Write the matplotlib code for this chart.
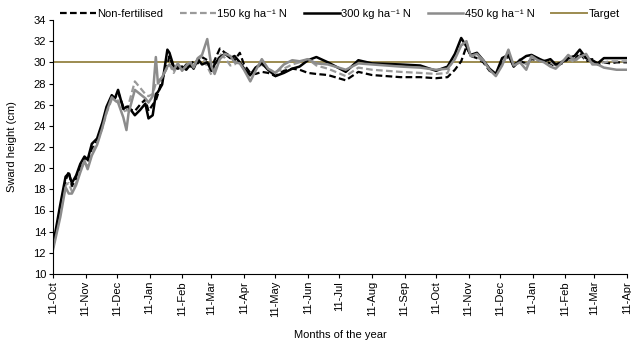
import matplotlib

matplotlib.use("Agg")

import matplotlib.dates as mdates
import matplotlib.pyplot as plt
import pandas as pd

plt.rcParams["font.family"] = ["Liberation Sans", "DejaVu Sans"]

START = "2012-10-11"
END = "2014-04-11"
TARGET = 30

# days since 11 Oct 2012
days = [
    0, 7, 12, 15, 18, 22, 26, 30, 33, 37, 42, 47, 51, 56, 59, 62, 67, 70, 72, 78,
    83, 88, 91, 95, 98, 100, 104, 109, 111, 115, 119, 123, 127, 131, 134, 138, 142, 147, 151, 154,
    159, 164, 169, 173, 178, 182, 188, 193, 199, 205, 212, 220, 228, 235, 243, 251, 262, 279, 291, 304,
    331, 350, 365, 376, 383, 389, 394, 398, 404, 410, 416, 422, 428, 434, 439, 445, 451, 456, 462, 468,
    474, 479, 485, 491, 497, 502, 508, 514, 519, 525, 531, 537, 547,
]

non_fert = [
    12.5, 16.0, 18.8, 19.7, 18.3, 19.0, 20.0, 21.0, 20.6, 21.8, 22.6, 24.0, 25.5, 26.8, 26.6, 27.2, 25.8, 25.6, 25.6, 25.4,
    26.0, 26.5, 25.4, 26.0, 26.4, 27.0, 28.4, 29.8, 30.6, 29.4, 29.6, 29.3, 29.8, 29.6, 30.2, 29.9, 30.5, 30.2, 29.5, 30.2,
    31.3, 30.9, 30.6, 30.2, 30.9, 29.8, 29.0, 28.9, 29.1, 29.0, 28.7, 29.2, 29.4, 29.3, 29.0, 28.9, 28.8, 28.3, 29.1, 28.8,
    28.6, 28.6, 28.5, 28.6, 29.3, 30.1, 31.5, 30.6, 30.4, 30.0, 29.2, 28.9, 29.9, 30.6, 29.8, 30.1, 29.9, 30.3, 30.2, 30.1,
    29.9, 29.6, 29.9, 30.3, 30.2, 30.9, 30.1, 30.3, 29.8, 30.0, 29.9, 30.0, 30.0,
]
n150 = [
    12.6, 15.7, 18.4, 18.6, 17.8, 18.6, 19.8, 20.6, 20.1, 21.4, 22.4, 23.8, 25.2, 26.5, 26.3, 26.4, 25.6, 25.2, 26.0, 28.2,
    27.6, 27.0, 26.8, 27.0, 28.0, 28.2, 28.6, 29.5, 29.8, 29.0, 29.8, 29.5, 29.4, 30.0, 29.6, 30.2, 30.6, 29.6, 28.8, 29.3,
    30.8, 30.4, 29.7, 29.8, 30.2, 29.4, 28.6, 29.4, 29.8, 29.3, 29.1, 29.4, 29.8, 30.0, 30.3, 29.7, 29.4, 28.7, 29.5, 29.3,
    29.1, 29.0, 28.9, 29.0, 30.7, 31.6, 31.9, 30.6, 30.5, 30.1, 29.4, 28.8, 29.8, 30.8, 29.6, 30.3, 29.8, 30.4, 30.3, 30.2,
    30.0, 29.7, 30.1, 30.4, 30.0, 30.6, 30.4, 30.0, 29.9, 30.0, 30.1, 30.1, 30.1,
]
n300 = [
    12.7, 16.6, 19.2, 19.5, 18.6, 19.3, 20.4, 21.1, 20.8, 22.3, 22.8, 24.3, 25.8, 26.9, 26.6, 27.4, 25.6, 25.8, 25.8, 25.0,
    25.5, 26.1, 24.7, 25.0, 27.0, 27.2, 27.9, 31.2, 30.9, 29.6, 29.4, 29.6, 29.3, 29.8, 29.4, 30.3, 29.8, 30.0, 29.2, 29.8,
    30.5, 30.8, 30.4, 30.6, 30.0, 29.4, 28.8, 29.5, 29.9, 29.3, 28.7, 29.0, 29.4, 29.6, 30.2, 30.5, 30.0, 29.1, 30.2, 29.9,
    29.8, 29.7, 29.2, 29.6, 30.8, 32.3, 31.5, 30.7, 30.9, 30.2, 29.4, 28.9, 30.4, 30.7, 29.6, 30.2, 30.6, 30.7, 30.4, 30.1,
    30.3, 29.8, 30.0, 30.4, 30.6, 31.2, 30.4, 30.2, 29.9, 30.4, 30.4, 30.4, 30.4,
]
n450 = [
    12.3, 15.4, 18.2, 17.6, 17.6, 18.4, 19.6, 20.7, 19.9, 21.2, 22.2, 23.8, 25.3, 26.7, 26.4, 26.2, 24.8, 23.6, 25.2, 27.4,
    27.0, 26.6, 26.2, 26.8, 30.5, 28.0, 28.6, 29.6, 29.8, 29.3, 29.9, 29.2, 29.7, 30.0, 29.5, 30.4, 30.7, 32.2, 29.6, 28.9,
    30.3, 30.8, 30.6, 30.0, 29.9, 29.3, 28.2, 29.2, 30.3, 29.4, 29.0, 29.8, 30.2, 30.1, 30.3, 29.9, 29.8, 29.3, 29.9, 29.8,
    29.6, 29.5, 29.3, 29.4, 30.3, 31.6, 32.0, 30.6, 30.8, 30.2, 29.3, 28.7, 29.7, 31.2, 29.7, 30.0, 29.3, 30.6, 30.2, 30.0,
    29.6, 29.4, 30.0, 30.7, 30.2, 30.5, 30.8, 29.8, 29.8, 29.5, 29.4, 29.3, 29.3,
]

labels = ["Non-fertilised", "150 kg ha\u207b\u00b9 N", "300 kg ha\u207b\u00b9 N", "450 kg ha\u207b\u00b9 N"]


def main():
    dates = pd.Timestamp(START) + pd.to_timedelta(days, unit="D")

    fig = plt.figure(figsize=(6.31, 3.43), dpi=100)
    ax = fig.add_axes([53 / 631, 1 - 274 / 343, 574 / 631, 254 / 343])

    ax.plot(dates, non_fert, color="black", linestyle=(0, (3, 1.5)), linewidth=1.6, label=labels[0])
    ax.plot(dates, n150, color="#9a9a9a", linestyle=(0, (3, 1.5)), linewidth=1.6, label=labels[1])
    ax.plot(dates, n300, color="black", linewidth=1.8, label=labels[2])
    ax.plot(dates, n450, color="#8c8c8c", linewidth=1.8, label=labels[3])
    ax.axhline(TARGET, color="#9c8b50", linewidth=1.4, label="Target", zorder=1)

    ax.set_xlim(pd.Timestamp(START), pd.Timestamp(END))
    ax.set_ylim(10, 34)
    ax.set_yticks(range(10, 35, 2))
    ax.xaxis.set_major_locator(mdates.MonthLocator(bymonthday=11))
    ax.xaxis.set_major_formatter(mdates.DateFormatter("%d-%b"))
    ax.tick_params(axis="x", labelrotation=90, labelsize=8, length=3, pad=2)
    ax.tick_params(axis="y", labelsize=8, length=3, pad=2)
    for side in ["top", "right"]:
        ax.spines[side].set_visible(False)

    ax.set_xlabel("Months of the year", fontsize=8, labelpad=9)
    ax.set_ylabel("Sward height (cm)", fontsize=8, labelpad=12)

    ax.legend(
        loc="upper center",
        bbox_to_anchor=(0.50, 1.065),
        ncol=5,
        frameon=False,
        fontsize=8,
        handlelength=3.2,
        handletextpad=0.15,
        columnspacing=1.5,
        borderpad=0,
    )

    fig.savefig("out.png", dpi=100)
    plt.close(fig)


if __name__ == "__main__":
    main()
